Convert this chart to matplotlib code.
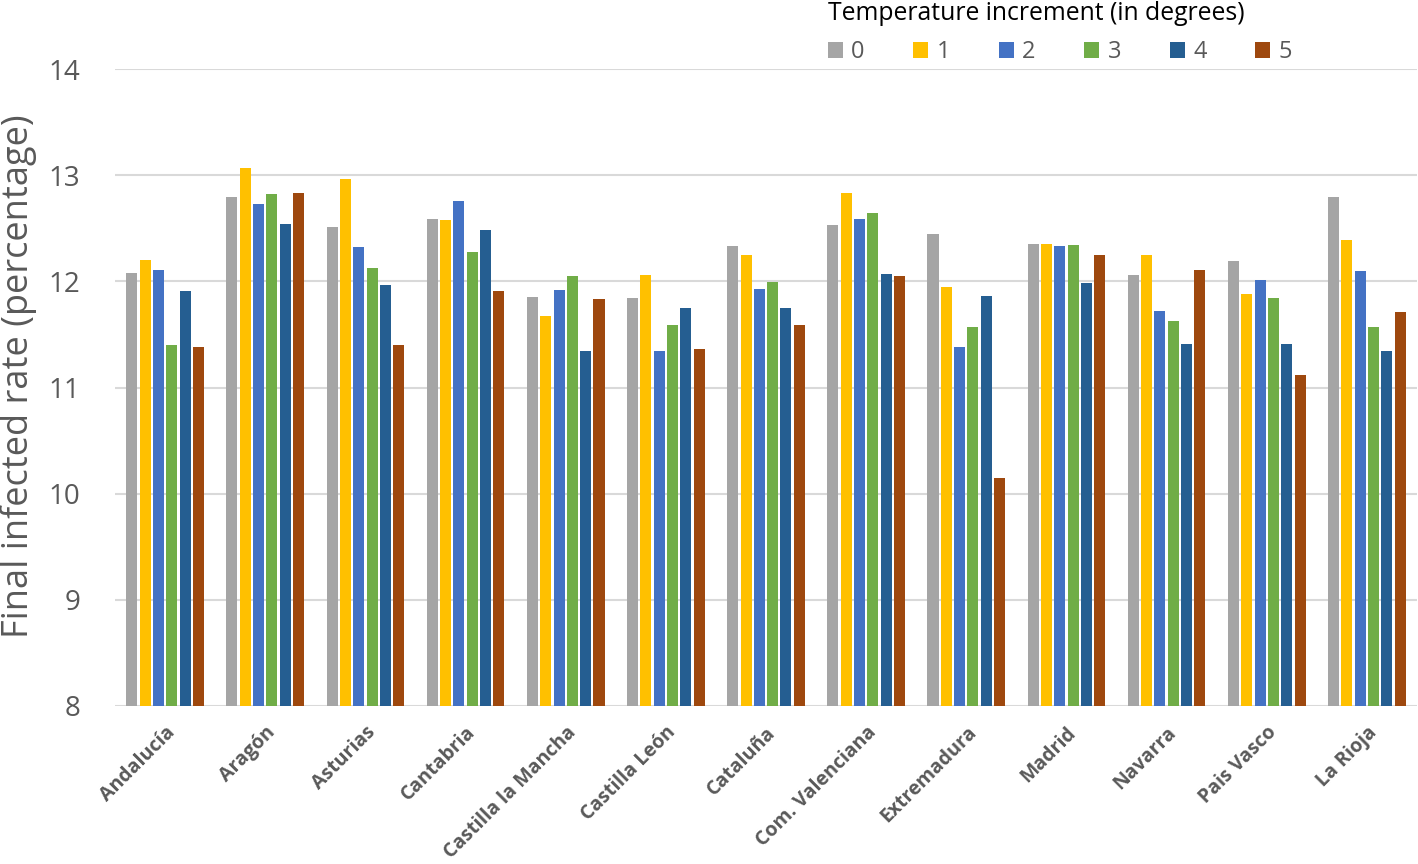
import matplotlib
matplotlib.use("Agg")
import matplotlib.pyplot as plt
import numpy as np

regions = ["Andalucía", "Aragón", "Asturias", "Cantabria", "Castilla la Mancha",
           "Castilla León", "Cataluña", "Com. Valenciana", "Extremadura", "Madrid",
           "Navarra", "Pais Vasco", "La Rioja"]
series_labels = ["0", "1", "2", "3", "4", "5"]
inc0 = [12.08, 12.79, 12.51, 12.59, 11.85, 11.84, 12.33, 12.53, 12.45, 12.35, 12.06, 12.19, 12.79]
inc1 = [12.20, 13.07, 12.96, 12.58, 11.67, 12.06, 12.25, 12.83, 11.95, 12.35, 12.25, 11.88, 12.39]
inc2 = [12.11, 12.73, 12.32, 12.76, 11.92, 11.34, 11.93, 12.59, 11.38, 12.33, 11.72, 12.01, 12.10]
inc3 = [11.40, 12.82, 12.13, 12.28, 12.05, 11.59, 11.99, 12.64, 11.57, 12.34, 11.63, 11.84, 11.57]
inc4 = [11.91, 12.54, 11.97, 12.48, 11.34, 11.75, 11.75, 12.07, 11.86, 11.98, 11.41, 11.41, 11.34]
inc5 = [11.38, 12.83, 11.40, 11.91, 11.83, 11.36, 11.59, 12.05, 10.15, 12.25, 12.11, 11.12, 11.71]
series = [inc0, inc1, inc2, inc3, inc4, inc5]
colors = ["#A5A5A5", "#FFC000", "#4472C4", "#70AD47", "#255E91", "#9E480E"]

fig = plt.figure(figsize=(14.18, 8.64), dpi=100)
ax = fig.add_axes([115/1418, 1 - 706/864, (1417-115)/1418, (706-69)/864])

x = np.arange(len(regions))
slot = 0.133
width = 0.11
handles = []
for i, (vals, c) in enumerate(zip(series, colors)):
    h = ax.bar(x + (i - 2.5) * slot, np.array(vals) - 8, width=width, bottom=8,
               color=c, zorder=3, label=series_labels[i])
    handles.append(h)

ax.set_xlim(-0.5, len(regions) - 0.5)
ax.set_ylim(8, 14)
ax.set_yticks(range(8, 15))
ax.yaxis.grid(True, color="#D9D9D9", linewidth=1.5, zorder=0)
ax.set_axisbelow(True)
for s in ["top", "right", "left", "bottom"]:
    ax.spines[s].set_visible(False)
ax.tick_params(axis="both", length=0)
ax.tick_params(axis="y", pad=25, labelsize=20, labelcolor="#595959")
for t in ax.get_yticklabels():
    t.set_fontfamily("Open Sans")

ax.set_xticks(x)
ax.set_xticklabels(regions, rotation=45, ha="right", rotation_mode="anchor",
                   fontsize=14, fontweight="bold", color="#595959", fontfamily="Open Sans")
ax.tick_params(axis="x", pad=12)

fig.text(19/1418, 1 - 376/864, "Final infected rate (percentage)", rotation=90,
         ha="center", va="center", fontsize=26, color="#595959", fontfamily="Open Sans")

leg = fig.legend(handles=handles, labels=series_labels, ncol=6, loc="upper left",
                 bbox_to_anchor=(811/1418, 1.018), frameon=False,
                 title="Temperature increment (in degrees)", alignment="left",
                 prop={"family": "Open Sans", "size": 17},
                 title_fontproperties={"family": "Open Sans", "size": 17.8},
                 handlelength=0.65, handleheight=0.65, handletextpad=0.35,
                 columnspacing=2.05, borderpad=0.2, labelspacing=0.6)
leg.get_title().set_color("black")
for t in leg.get_texts():
    t.set_color("#595959")

fig.savefig("out.png", dpi=100)
